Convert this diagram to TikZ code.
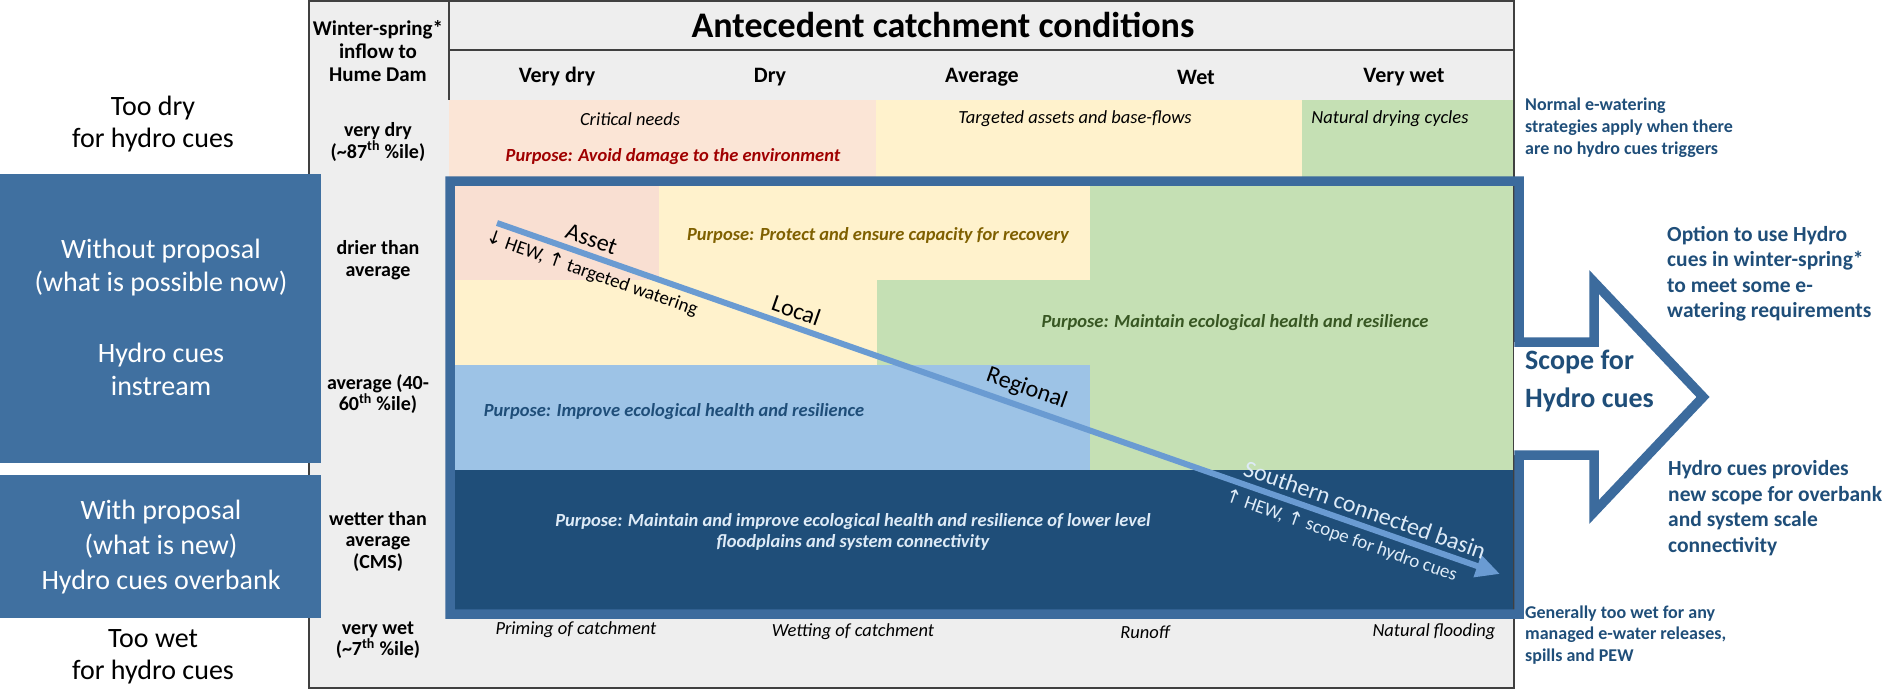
\documentclass[tikz,border=0pt]{standalone}
\usepackage{fontspec}
\setmainfont{Carlito}
\newfontfamily\symfont{DejaVu Sans}
\usetikzlibrary{arrows.meta}
\newcommand\fsz[2]{\fontsize{#1}{#2}\selectfont}
\newcommand\up{{\symfont\char"2191}}
\newcommand\dn{{\symfont\char"2193}}
\definecolor{boxblue}{RGB}{64,112,160}
\definecolor{frameblue}{RGB}{60,107,157}
\definecolor{darkrow}{RGB}{31,78,121}
\definecolor{lightblue}{RGB}{157,195,230}
\definecolor{cgreen}{RGB}{197,224,180}
\definecolor{cyellow}{RGB}{255,242,204}
\definecolor{csalmon}{RGB}{251,229,214}
\definecolor{csalmonin}{RGB}{249,223,210}
\definecolor{tgray}{RGB}{238,238,238}
\definecolor{tborder}{RGB}{64,64,64}
\definecolor{arrowcol}{RGB}{106,155,210}
\definecolor{dred}{RGB}{160,0,0}
\definecolor{olive}{RGB}{127,96,0}
\definecolor{dgreen}{RGB}{56,87,35}
\definecolor{ltext}{RGB}{222,235,247}
\definecolor{rblue}{RGB}{31,78,121}
\tikzset{
  lefttxt/.style={inner sep=0pt, align=center, text=white, font=\fsz{28}{33}},
  outtxt/.style={inner sep=0pt, align=center, text=black, font=\fsz{28}{32}},
  graycol/.style={inner sep=0pt, align=center, font=\bfseries\fsz{20}{21.5}},
  colhead/.style={inner sep=0pt, font=\bfseries\fsz{22}{26}},
  cellit/.style={inner sep=0pt, font=\itshape\fsz{18.5}{21}},
  purpose/.style={inner sep=0pt, align=center, font=\bfseries\itshape\fsz{18.5}{21}},
  rtxt/.style={inner sep=0pt, align=left, anchor=west, text=rblue, font=\bfseries\fsz{18}{21.8}},
  rtxtbig/.style={inner sep=0pt, align=left, anchor=west, text=rblue, font=\bfseries\fsz{21.5}{25.5}},
  diaglbl/.style={inner sep=0pt, sloped, font=\fsz{24}{26}},
  diagsmall/.style={inner sep=0pt, sloped, font=\fsz{19}{21}},
  diagarrow/.style={line width=6pt, draw=arrowcol, -{Triangle[length=24pt,width=22pt]}},
  frameline/.style={line width=9.5pt, draw=frameblue, line join=miter},
}
\begin{document}
\begin{tikzpicture}[x=1pt,y=-1pt]
\useasboundingbox (0,0) rectangle (1887,690);
% table background
\fill[tgray] (309,0) rectangle (1514,688);
% row 1 colours
\fill[csalmon] (449,100) rectangle (876,181);
\fill[cyellow] (876,100) rectangle (1302,181);
\fill[cgreen] (1302,100) rectangle (1514,181);
% inner regions
\fill[csalmonin] (450,181) rectangle (659,280);
\fill[cyellow] (659,181) rectangle (1090,280);
\fill[cyellow] (450,280) rectangle (877,365);
\fill[cgreen] (1090,181) rectangle (1519,470);
\fill[cgreen] (877,280) rectangle (1090,365);
\fill[lightblue] (450,365) rectangle (1090,470);
\fill[darkrow] (450,470) rectangle (1519,614);
% table lines
\draw[tborder, line width=1.5pt] (309,1) rectangle (1514,688);
\draw[tborder, line width=1.5pt] (449,0) -- (449,100);
\draw[tborder, line width=1.5pt] (449,50) -- (1514,50);
% arrow interior
\fill[white] (1514,342) -- (1594,342) -- (1594,282) -- (1703,397) -- (1594,512) -- (1594,455) -- (1514,455) -- cycle;
% frame + arrow outline
\draw[frameline] (450,181) -- (1519,181) -- (1519,342) -- (1594,342) -- (1594,282) -- (1703,397) -- (1594,512) -- (1594,455) -- (1519,455) -- (1519,614) -- (450,614) -- cycle;
% left boxes
\fill[boxblue] (0,174) rectangle (321,463);
\fill[boxblue] (0,475) rectangle (321,618);

% left texts
\node[outtxt] (toodry) at (153,124) {Too dry\\for hydro cues};
\node[lefttxt] (without) at (161,268) {Without proposal\\(what is possible now)};
\node[lefttxt] (instream) at (161,369) {Hydro cues\\instream};
\node[lefttxt, font=\fsz{28}{35}] (withp) at (161,547) {With proposal\\(what is new)\\Hydro cues overbank};
\node[outtxt] (toowet) at (153,657) {Too wet\\for hydro cues};

% gray column
\node[graycol, font=\bfseries\fsz{21}{23}] (inflow) at (378,51) {Winter-spring*\\inflow to\\Hume Dam};
\node[graycol] (rvd) at (378,142) {very dry\\(\textasciitilde87\textsuperscript{th} \%ile)};
\node[graycol] (rdr) at (378,260) {drier than\\average};
\node[graycol] (rav) at (378,394) {average (40-\\60\textsuperscript{th} \%ile)};
\node[graycol] (rwt) at (378,541) {wetter than\\average\\(CMS)};
\node[graycol] (rvw) at (378,640) {very wet\\(\textasciitilde7\textsuperscript{th} \%ile)};

% headers
\node[inner sep=0pt, font=\bfseries\fsz{36}{40}] (title) at (943,25) {Antecedent catchment conditions};
\node[colhead] (hvd) at (557,77) {Very dry};
\node[colhead] (hd) at (770,77) {Dry};
\node[colhead] (ha) at (982,77) {Average};
\node[colhead] (hw) at (1196,77) {Wet};
\node[colhead] (hvw) at (1404,77) {Very wet};

% row 1
\node[cellit] (crit) at (630,119) {Critical needs};
\node[purpose, text=dred] (avoid) at (673,157) {Purpose: Avoid damage to the environment};
\node[cellit] (targ) at (1075,119) {Targeted assets and base-flows};
\node[cellit] (natdry) at (1390,119) {Natural drying cycles};

% inner purposes
\node[purpose, text=olive] (protect) at (878,235) {Purpose: Protect and ensure capacity for recovery};
\node[purpose, text=dgreen] (maintain) at (1235,323) {Purpose: Maintain ecological health and resilience};
\node[purpose, text=rblue] (improve) at (674,412) {Purpose: Improve ecological health and resilience};
\node[purpose, text=ltext] (lower) at (853,532) {Purpose: Maintain and improve ecological health and resilience of lower level\\floodplains and system connectivity};

% bottom row
\node[cellit] (prim) at (576,630) {Priming of catchment};
\node[cellit] (wett) at (853,632) {Wetting of catchment};
\node[cellit] (runoff) at (1145,632) {Runoff};
\node[cellit] (natfl) at (1434,632) {Natural flooding};

% diagonal arrow
\coordinate (arrS) at (497,223);
\coordinate (arrE) at (1500,574);
\draw[diagarrow] (arrS) -- (arrE)
  node[diaglbl, pos=0.089, above=5pt] (asset) {Asset}
  node[diagsmall, pos=0.10, below=5pt] (hewA) {\dn{} HEW, \up{} targeted watering}
  node[diaglbl, pos=0.293, above=5pt] (local) {Local}
  node[diaglbl, pos=0.522, above=5pt] (regional) {Regional}
  node[diaglbl, pos=0.86, above=5pt, text=ltext] (southern) {Southern connected basin}
  node[diagsmall, pos=0.847, below=5pt, text=ltext] (hewB) {\up{} HEW, \up{} scope for hydro cues};

% right texts
\node[rtxt] (normal) at (1525,128) {Normal e-watering\\strategies apply when there\\are no hydro cues triggers};
\node[rtxtbig] (option) at (1667,274) {Option to use Hydro\\cues in winter-spring*\\to meet some e-\\watering requirements};
\node[inner sep=0pt, align=left, anchor=west, text=rblue, font=\bfseries\fsz{28}{38}] (scope) at (1525,381) {Scope for\\Hydro cues};
\node[rtxtbig] (provides) at (1668,508) {Hydro cues provides\\new scope for overbank\\and system scale\\connectivity};
\node[rtxt] (generally) at (1525,635) {Generally too wet for any\\managed e-water releases,\\spills and PEW};
\end{tikzpicture}
\end{document}
